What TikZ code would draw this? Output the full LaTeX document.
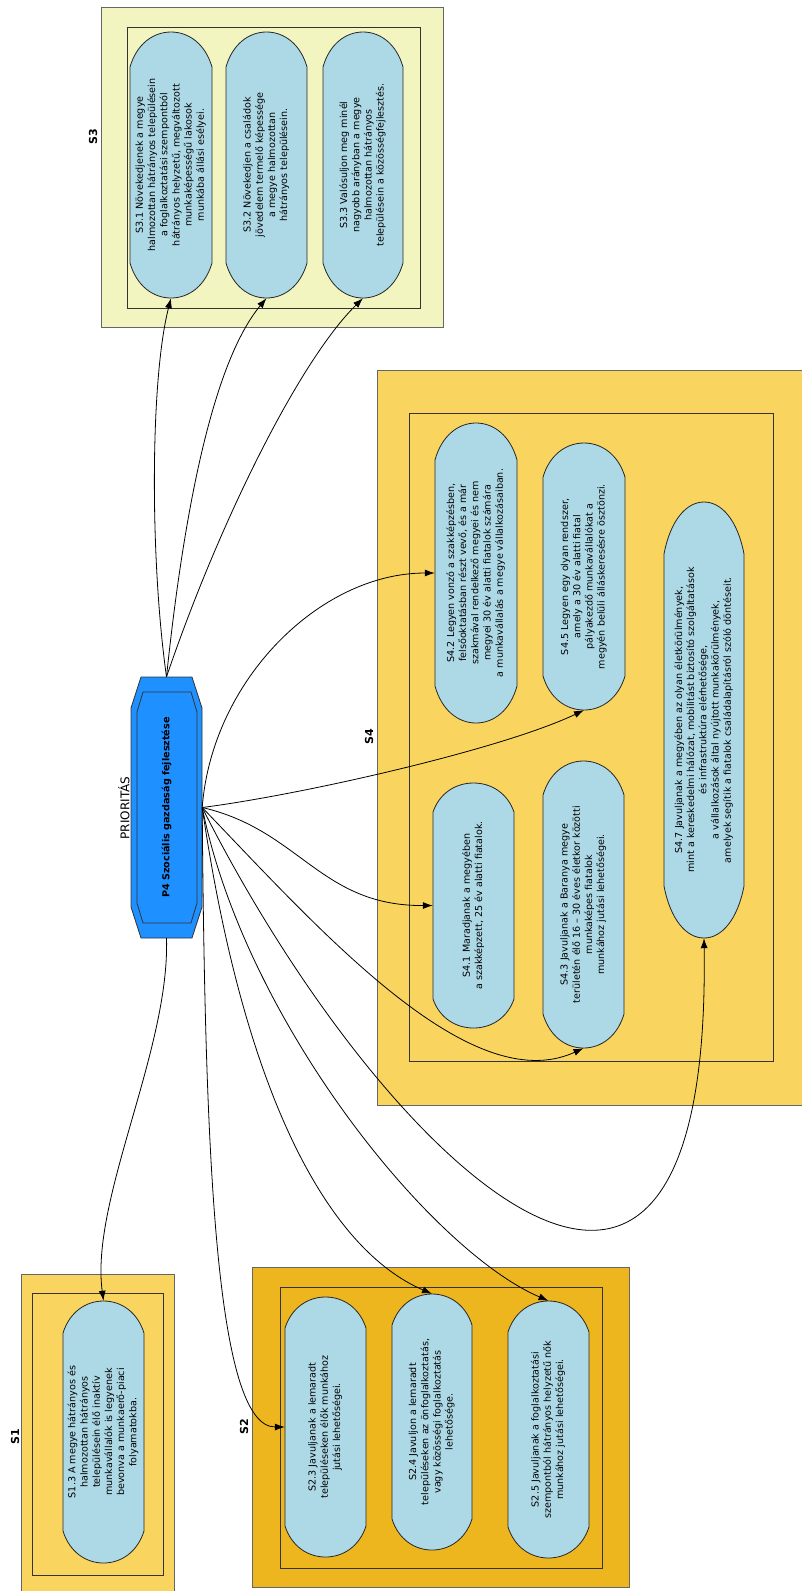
\documentclass[tikz,border=0pt]{standalone}
\usepackage{fontspec,graphicx}
\setmainfont{DejaVu Sans}
\usetikzlibrary{arrows.meta,calc}

\definecolor{capfill}{RGB}{173,216,230}
\definecolor{p4fill}{RGB}{30,144,255}
\definecolor{sfill}{RGB}{249,213,96}
\definecolor{stwofill}{RGB}{238,182,30}
\definecolor{sthreefill}{RGB}{243,245,192}

\tikzset{
  capline/.style={draw=black!85,fill=capfill,line width=0.8pt},
  captext/.style={inner sep=0pt,font=\fontsize{9.6}{12.2}\selectfont},
  outerbox/.style={draw=black!60,line width=1pt},
  innerbox/.style={draw=black!80,line width=0.8pt},
  grouplabel/.style={rotate=90,inner sep=0pt,font=\bfseries\fontsize{11}{13}\selectfont},
  p4line/.style={draw=black!80,fill=p4fill,line width=0.8pt},
  link/.style={-{Latex[length=10pt,width=7pt]},line width=0.8pt}
}

% vertical text block
\newcommand\vtext[1]{\rotatebox{90}{\begin{tabular}{@{}c@{}}#1\end{tabular}}}
% name, cx, cy, width, height, cap, text
\newcommand\capsule[7]{%
  \draw[capline] ({#2-#4/2},{#3+#5/2-#6})
    .. controls ({#2-0.42*#4},{#3+#5/2-0.35*#6}) and ({#2-0.22*#4},{#3+#5/2}) .. ({#2},{#3+#5/2})
    .. controls ({#2+0.22*#4},{#3+#5/2}) and ({#2+0.42*#4},{#3+#5/2-0.35*#6}) .. ({#2+#4/2},{#3+#5/2-#6})
    -- ({#2+#4/2},{#3-#5/2+#6})
    .. controls ({#2+0.42*#4},{#3-#5/2+0.35*#6}) and ({#2+0.22*#4},{#3-#5/2}) .. ({#2},{#3-#5/2})
    .. controls ({#2-0.22*#4},{#3-#5/2}) and ({#2-0.42*#4},{#3-#5/2+0.35*#6}) .. ({#2-#4/2},{#3-#5/2+#6})
    -- cycle;
  \node[captext,minimum width=#4pt,minimum height=#5pt] (#1) at (#2,#3) {\vtext{#7}};}

\begin{document}
\begin{tikzpicture}[x=1pt,y=1pt]
\useasboundingbox (0,0) rectangle (802,-1591);

% group boxes
\filldraw[outerbox,fill=sthreefill] (101,-7) rectangle (443,-327);
\draw[innerbox] (127,-27) rectangle (420,-308);
\filldraw[outerbox,fill=sfill] (377,-370) rectangle (803,-1105);
\draw[innerbox] (409,-413) rectangle (773,-1061);
\filldraw[outerbox,fill=sfill] (21,-1274) rectangle (174,-1595);
\draw[innerbox] (32,-1293) rectangle (163,-1575);
\filldraw[outerbox,fill=stwofill] (252,-1267) rectangle (629,-1587);
\draw[innerbox] (280,-1287) rectangle (602,-1568);

\node[grouplabel] (l3) at (93,-137) {S3};
\node[grouplabel] (l4) at (369,-737) {S4};
\node[grouplabel] (l1) at (15,-1437) {S1};
\node[grouplabel] (l2) at (244,-1427) {S2};

% priority node
\draw[p4line] (141,-677) -- (192,-677) -- (202,-708) -- (202,-907) -- (192,-938) -- (141,-938) -- (131,-907) -- (131,-708) -- cycle;
\draw[p4line] (143,-692) -- (191,-692) -- (197,-712) -- (197,-903) -- (191,-923) -- (143,-923) -- (137,-903) -- (137,-712) -- cycle;
\node[inner sep=0pt,minimum width=71pt,minimum height=261pt,font=\bfseries\fontsize{9.6}{11}\selectfont] (P4) at (166.5,-807.5) {\rotatebox{90}{P4 Szociális gazdaság fejlesztése}};
\node[rotate=90,inner sep=0pt,font=\fontsize{12}{14}\selectfont] (prio) at (124,-808) {PRIORITÁS};

% goals
\capsule{s31}{171}{-165}{82}{266}{35}{S3.1 Növekedjenek a megye\\halmozottan hátrányos településein\\a foglalkoztatási szempontból\\hátrányos helyzetű, megváltozott\\munkaképességű lakosok\\munkába állási esélyei.}
\capsule{s32}{266.5}{-165}{81}{266}{35}{S3.2 Növekedjen a családok\\jövedelem termelő képessége\\a megye halmozottan\\hátrányos településein.}
\capsule{s33}{363}{-165}{80}{266}{35}{S3.3 Valósuljon meg minél\\nagyobb arányban a megye\\halmozottan hátrányos\\településein a közösségfejlesztés.}
\capsule{s42}{476}{-573}{82}{300}{37}{S4.2 Legyen vonzó a szakképzésben,\\felsőoktatásban részt vevő, és a már\\szakmával rendelkező megyei és nem\\megyei 30 év alatti fiatalok számára\\a munkavállalás a megye vállalkozásaiban.}
\capsule{s45}{584}{-576.5}{82}{267}{34}{S4.5 Legyen egy olyan rendszer,\\amely a 30 év alatti fiatal\\pályakezdő munkavállalókat a\\megyén belüli álláskeresésre ösztönzi.}
\capsule{s47}{704}{-720}{80}{436}{52}{S4.7 Javuljanak a megyében az olyan életkörülmények,\\mint a kereskedelmi hálózat, mobilitást biztosító szolgáltatások\\és infrastruktúra elérhetősége,\\a vállalkozások által nyújtott munkakörülmények,\\amelyek segítik a fiatalok családalapításról szóló döntéseit.}
\capsule{s41}{473.5}{-905.5}{81}{245}{29}{S4.1 Maradjanak a megyében\\a szakképzett, 25 év alatti fiatalok.}
\capsule{s43}{583.5}{-904.5}{81}{287}{34}{S4.3 Javuljanak a Baranya megye\\területén élő 16 -- 30 éves életkor közötti\\munkaképes fiatalok\\munkához jutási lehetőségei.}
\capsule{s23}{325.5}{-1427}{81}{260}{31}{S2.3 Javuljanak a lemaradt\\településeken élők munkához\\jutási lehetőségei.}
\capsule{s24}{432}{-1422}{80}{256}{31}{S2.4 Javuljon a lemaradt\\településeken az önfoglalkoztatás,\\vagy közösségi foglalkoztatás\\lehetősége.}
\capsule{s25}{548.5}{-1429.5}{81}{257}{31}{S2.5 Javuljanak a foglalkoztatási\\szempontból hátrányos helyzetű nők\\munkához jutási lehetőségei.}
\capsule{s13}{103.5}{-1432}{81}{262}{32}{S1.3 A megye hátrányos és\\halmozottan hátrányos\\településein élő inaktív\\munkavállalók is legyenek\\bevonva a munkaerő-piaci\\folyamatokba.}

% links
\draw[link] (P4.north) .. controls (150,-560) and (150,-380) .. (s31.south);
\draw[link] (P4.north) .. controls (185,-500) and (215,-360) .. (s32.south);
\draw[link] (P4.north) .. controls (220,-520) and (300,-360) .. (s33.south);
\draw[link] (P4.east) .. controls (212,-680) and (320,-573) .. (s42.west);
\draw[link] (P4.east) .. controls (300,-795) and (500,-750) .. (s45.south);
\draw[link] (P4.east) .. controls (300,-830) and (320,-906) .. (s41.west);
\draw[link] (P4.east) .. controls (320,-930) and (470,-1100) .. (s43.south);
\draw[link] (P4.east) .. controls (380,-1160) and (712,-1480) .. (s47.south);
\draw[link] (P4.east) .. controls (245,-1100) and (330,-1250) .. (s24.north);
\draw[link] (P4.east) .. controls (245,-1020) and (430,-1250) .. (s25.north);
\draw[link] (P4.east) .. controls (205,-1150) and (215,-1427) .. (s23.west);
\draw[link] (P4.south) .. controls (170,-1050) and (90,-1200) .. (s13.north);
\end{tikzpicture}
\end{document}
